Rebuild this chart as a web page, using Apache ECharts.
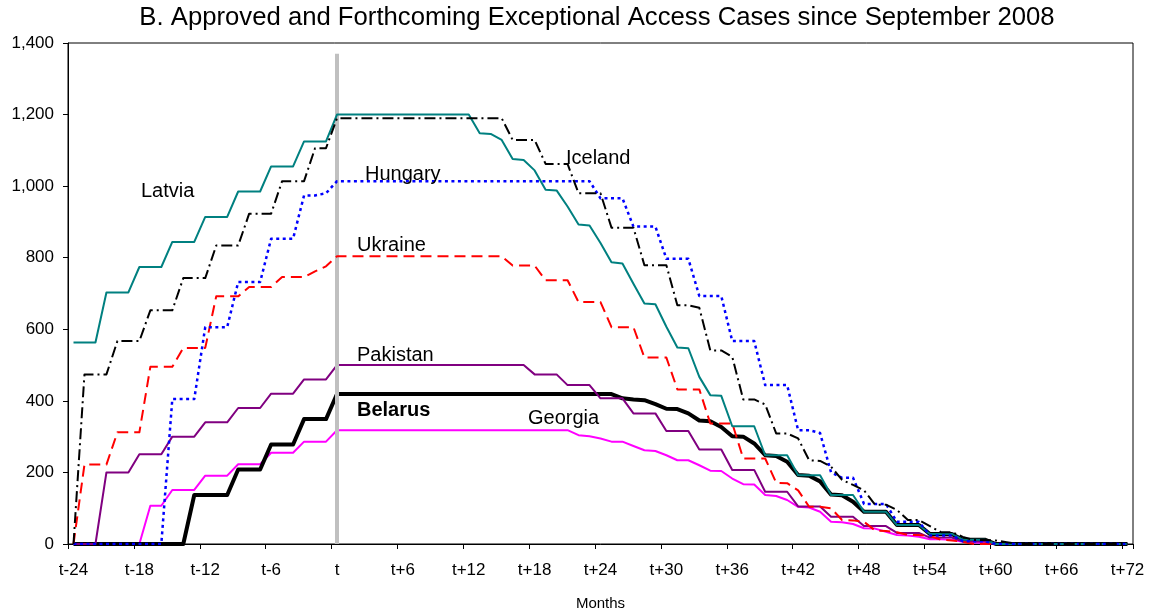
<!DOCTYPE html>
<html>
<head>
<meta charset="utf-8">
<title>Approved and Forthcoming Exceptional Access Cases</title>
<script src="https://cdn.jsdelivr.net/npm/echarts/dist/echarts.min.js"></script>
<style>
  html, body { margin: 0; padding: 0; background: #fff; }
  #chart { width: 1151px; height: 614px; }
</style>
</head>
<body>
<div id="chart"></div>
<script>
// x categories: t-24 ... t+72 (monthly)
const months = [];
for (let m = -24; m <= 72; m++) {
  months.push(m === 0 ? 't' : (m < 0 ? 't' + m : 't+' + m));
}

// values, one per month (t-24 .. t+72)
const latvia = [
  563, 563, 563, 703, 703, 703, 774, 774, 774, 844, 844, 844,
  914, 914, 914, 985, 985, 985, 1055, 1055, 1055, 1125, 1125, 1125,
  1200, 1200, 1200, 1200, 1200, 1200, 1200, 1200, 1200, 1200, 1200, 1200, 1200,
  1148, 1146, 1129, 1076, 1073, 1044, 990, 988, 943, 893, 890, 841,
  787, 784, 727, 672, 670, 607, 549, 547, 467, 416, 414,
  329, 329, 329, 248, 248, 248, 192, 192, 192, 137, 137, 137,
  90, 90, 90, 53, 53, 53, 28, 28, 28, 12, 12, 12,
  0, 0, 0, 0, 0, 0, 0, 0, 0, 0, 0, 0, 0
];
const iceland = [
  0, 474, 474, 474, 567, 567, 567, 653, 653, 653, 743, 743,
  743, 834, 834, 834, 923, 923, 923, 1014, 1014, 1014, 1106, 1106,
  1190, 1190, 1190, 1190, 1190, 1190, 1190, 1190, 1190, 1190, 1190, 1190, 1190, 1190, 1190, 1190,
  1129, 1129, 1129, 1062, 1062, 1062, 980, 980, 980, 884, 884, 884, 779, 779, 779,
  667, 667, 660, 541, 541, 523, 404, 404, 390, 309, 309, 295,
  234, 232, 216, 179, 165, 150, 110, 110, 95, 67, 67, 50,
  33, 33, 20, 11, 11, 10, 5,
  0, 0, 0, 0, 0, 0, 0, 0, 0, 0, 0
];
const hungary = [
  0, 0, 0, 0, 0, 0, 0, 0, 0, 405, 405, 405,
  606, 606, 606, 732, 732, 732, 853, 853, 853, 974, 974, 980,
  1014, 1014, 1014, 1014, 1014, 1014, 1014, 1014, 1014, 1014, 1014, 1014,
  1014, 1014, 1014, 1014, 1014, 1014, 1014, 1014, 1014, 1014, 1014, 1014,
  966, 966, 966, 887, 887, 887, 797, 797, 797, 693, 693, 693,
  567, 567, 567, 444, 444, 444, 318, 318, 310, 200, 185, 185,
  112, 112, 112, 62, 62, 62, 24, 24, 24, 8, 8, 8,
  0, 0, 0, 0, 0, 0, 0, 0, 0, 0, 0, 0, 0
];
const ukraine = [
  0, 222, 222, 222, 312, 312, 312, 495, 495, 495, 548, 548,
  548, 692, 692, 692, 718, 718, 718, 746, 746, 746, 762, 776,
  804, 804, 804, 804, 804, 804, 804, 804, 804, 804, 804, 804, 804, 804, 804, 804,
  778, 778, 778, 737, 737, 737, 676, 676, 676, 606, 606, 606,
  521, 521, 521, 432, 432, 432, 337, 337, 337, 239, 239, 239,
  171, 170, 150, 104, 104, 100, 67, 66, 62, 38, 36, 33,
  25, 25, 22, 12, 10, 6,
  0, 0, 0, 0, 0, 0, 0, 0, 0, 0, 0, 0, 0, 0, 0
];
const pakistan = [
  0, 0, 0, 200, 200, 200, 251, 251, 251, 300, 300, 300,
  340, 340, 340, 380, 380, 380, 420, 420, 420, 460, 460, 460,
  500, 500, 500, 500, 500, 500, 500, 500, 500, 500, 500, 500, 500, 500, 500, 500, 500, 500,
  474, 474, 474, 444, 444, 444, 407, 407, 407, 365, 365, 365,
  316, 316, 316, 264, 264, 264, 207, 207, 207, 146, 146, 146,
  105, 105, 105, 76, 76, 76, 50, 50, 50, 31, 31, 31,
  18, 18, 18, 7, 7, 7,
  0, 0, 0, 0, 0, 0, 0, 0, 0, 0, 0, 0, 0
];
const belarus = [
  0, 0, 0, 0, 0, 0, 0, 0, 0, 0, 0, 137,
  137, 137, 137, 208, 208, 208, 278, 278, 278, 349, 349, 349,
  419, 419, 419, 419, 419, 419, 419, 419, 419, 419, 419, 419, 419,
  419, 419, 419, 419, 419, 419, 419, 419, 419, 419, 419, 419, 419,
  407, 404, 402, 391, 378, 377, 365, 345, 343, 327, 301, 300, 281,
  248, 246, 230, 193, 191, 175, 138, 136, 118,
  90, 90, 90, 53, 53, 53, 28, 28, 28, 12, 12, 12,
  0, 0, 0, 0, 0, 0, 0, 0, 0, 0, 0, 0, 0
];
const georgia = [
  0, 0, 0, 0, 0, 0, 0, 107, 107, 151, 151, 151,
  191, 191, 191, 223, 223, 223, 255, 255, 255, 286, 286, 286,
  318, 318, 318, 318, 318, 318, 318, 318, 318, 318, 318,
  318, 318, 318, 318, 318, 318, 318, 318, 318, 318, 318,
  304, 301, 295, 286, 286, 274, 262, 260, 248, 234, 234, 220,
  205, 204, 183, 167, 166,
  137, 134, 123, 104, 102, 90, 62, 61, 56, 44, 43, 34,
  25, 24, 20, 13, 13, 12, 6, 4, 3,
  0, 0, 0, 0, 0, 0, 0, 0, 0, 0, 0, 0, 0
];

// top of the grey "t" marker line, in chart units
const markerTop = 1370;

const FONT = '"Liberation Sans", Arial, sans-serif';

var chartDom = document.getElementById('chart');
var myChart = echarts.init(chartDom, null, { renderer: 'canvas' });
var option;

function lineSeries(name, data, color, width, type, z) {
  return {
    name: name,
    type: 'line',
    data: data,
    symbol: 'none',
    showSymbol: false,
    z: z,
    lineStyle: { color: color, width: width, type: type, cap: 'butt', join: 'round' },
    emphasis: { disabled: true }
  };
}

let series = [
  lineSeries('Georgia', georgia, '#ff00ff', 2, 'solid', 2),
  lineSeries('Belarus', belarus, '#000000', 4, 'solid', 3),
  lineSeries('Pakistan', pakistan, '#800080', 2, 'solid', 4),
  lineSeries('Ukraine', ukraine, '#ff0000', 2, [11, 6], 5),
  lineSeries('Latvia', latvia, '#008080', 2, 'solid', 6),
  lineSeries('Hungary', hungary, '#0000ff', 2.5, [3, 3.5], 7),
  lineSeries('Iceland', iceland, '#000000', 2, [11, 4, 2, 4], 8)
];
series[6].markLine = {
  silent: true,
  symbol: 'none',
  label: { show: false },
  lineStyle: { color: '#c0c0c0', width: 4, type: 'solid' },
  data: [[{ coord: ['t', 0] }, { coord: ['t', markerTop] }]]
};

function txt(text, x, y, bold) {
  return {
    type: 'text',
    x: x,
    y: y,
    z: 100,
    style: {
      text: text,
      fill: '#000',
      font: (bold ? 'bold ' : '') + '20px ' + FONT,
      textVerticalAlign: 'middle'
    }
  };
}

option = {
  animation: false,
  backgroundColor: '#fff',
  textStyle: { fontFamily: FONT },
  grid: {
    left: 68,
    right: 18,
    top: 43,
    bottom: 70,
    show: true,
    borderColor: '#000',
    borderWidth: 1,
    backgroundColor: 'transparent',
    outerBoundsMode: 'none'
  },
  xAxis: {
    type: 'category',
    data: months,
    boundaryGap: true,
    name: 'Months',
    nameLocation: 'middle',
    nameGap: 52,
    nameTextStyle: { fontSize: 15, color: '#000', fontFamily: FONT },
    axisLine: { show: true, lineStyle: { color: '#000', width: 1 } },
    axisTick: { show: true, interval: 5, alignWithLabel: false, length: 5, lineStyle: { color: '#000' } },
    axisLabel: { interval: 5, margin: 18, fontSize: 17, color: '#000', fontFamily: FONT },
    splitLine: { show: false }
  },
  yAxis: {
    type: 'value',
    min: 0,
    max: 1400,
    interval: 200,
    axisLine: { show: true, lineStyle: { color: '#000', width: 1 } },
    axisTick: { show: true, length: 5, lineStyle: { color: '#000' } },
    axisLabel: {
      margin: 14,
      fontSize: 17,
      color: '#000',
      fontFamily: FONT,
      formatter: function (v) { return v.toLocaleString('en-US'); }
    },
    splitLine: { show: false }
  },
  graphic: [
    {
      type: 'text',
      x: 597,
      y: 18,
      style: {
        text: 'B. Approved and Forthcoming Exceptional Access Cases since September 2008',
        fill: '#000',
        font: '25.7px ' + FONT,
        textAlign: 'center',
        textVerticalAlign: 'middle'
      }
    },
    txt('Latvia', 141, 191),
    txt('Hungary', 365, 174),
    txt('Iceland', 566, 158),
    txt('Ukraine', 357, 245),
    txt('Pakistan', 357, 355),
    txt('Belarus', 357, 410, true),
    txt('Georgia', 528, 418)
  ],
  series: series
};

option && myChart.setOption(option);
</script>
</body>
</html>
